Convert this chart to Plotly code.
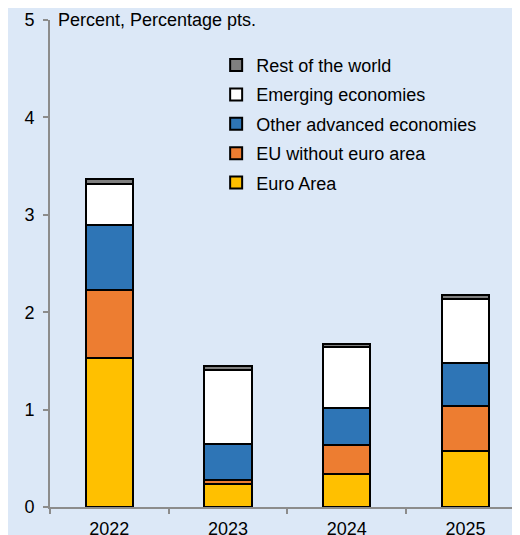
import plotly.graph_objects as go

years = ["2022", "2023", "2024", "2025"]
euro_area = [1.53, 0.24, 0.34, 0.58]
eu_non_euro = [0.70, 0.04, 0.30, 0.46]
other_adv = [0.67, 0.37, 0.38, 0.44]
emerging = [0.42, 0.76, 0.62, 0.66]
rest_world = [0.05, 0.04, 0.03, 0.04]

series = [
    ("Euro Area", euro_area, "#FFC000"),
    ("EU without euro area", eu_non_euro, "#ED7D31"),
    ("Other advanced economies", other_adv, "#2E75B6"),
    ("Emerging economies", emerging, "#FFFFFF"),
    ("Rest of the world", rest_world, "#7F7F7F"),
]

FONT = "Arial, Liberation Sans, sans-serif"
fig = go.Figure()
n = len(series)
for i, (name, vals, col) in enumerate(series):
    fig.add_trace(go.Bar(
        x=years, y=vals, name=name, legendgroup=f"g{i}",
        legendrank=1000 + (n - i),
        marker=dict(color=col, line=dict(color="#000000", width=2)),
        width=0.40,
    ))

fig.update_layout(
    width=520, height=535,
    barmode="stack",
    paper_bgcolor="#DCE8F7", plot_bgcolor="#DCE8F7",
    margin=dict(l=42, r=8, t=12, b=36, autoexpand=False),
    font=dict(family=FONT, size=18, color="#000000"),
    showlegend=True,
    legend=dict(
        x=0.3535, y=0.945, xanchor="left", yanchor="top",
        traceorder="grouped", tracegroupgap=3,
        bgcolor="rgba(0,0,0,0)", font=dict(size=18, family=FONT),
        itemwidth=30,
    ),
    xaxis=dict(
        type="category", range=[-0.5, 3.46],
        showline=True, linecolor="#8C8C8C", linewidth=2,
        ticks="outside", tickson="boundaries", ticklen=5, tickcolor="#8C8C8C", tickwidth=2,
        showgrid=False, zeroline=False, tickfont=dict(size=18),
        ticklabelstandoff=4, automargin=False,
    ),
    yaxis=dict(
        range=[0, 5], tickvals=[0, 1, 2, 3, 4, 5],
        showline=True, linecolor="#8C8C8C", linewidth=2,
        ticks="outside", ticklen=5, tickcolor="#8C8C8C", tickwidth=2,
        showgrid=False, zeroline=False, tickfont=dict(size=18),
        ticklabelstandoff=5, automargin=False,
    ),
    annotations=[dict(
        text="Percent, Percentage pts.", xref="paper", yref="paper",
        x=0.0, y=1.0, xanchor="left", yanchor="middle", xshift=6,
        showarrow=False, font=dict(size=18, family=FONT),
    )],
)

fig.write_html("out.html")
